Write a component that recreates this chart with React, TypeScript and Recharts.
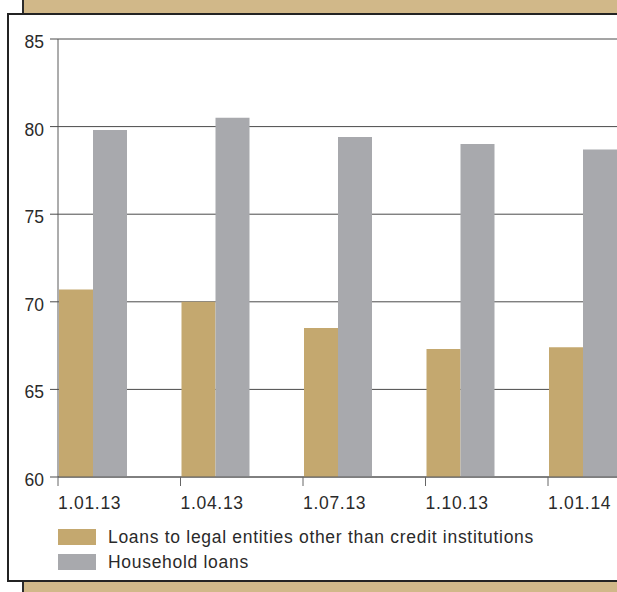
import React from 'react';
import { BarChart, Bar, XAxis, YAxis, CartesianGrid } from 'recharts';

// dates of the observations
const dates = ['1.01.13', '1.04.13', '1.07.13', '1.10.13', '1.01.14'];
// share of loans, %
const legalEntities = [70.7, 70.0, 68.5, 67.3, 67.4];
const household = [79.8, 80.5, 79.4, 79.0, 78.7];
const yTicks = [60, 65, 70, 75, 80, 85];

const seriesNames = {
  legal: 'Loans to legal entities other than credit institutions',
  household: 'Household loans',
};

const TAN = '#c4a86f';
const GREY = '#a8a9ad';
const STRIP = '#d1b889';
const INK = '#2a2a2a';
const LINE = '#4a4a4a';
const FONT = '"Liberation Sans", Arial, Helvetica, sans-serif';

const CHART_W = 670.5;
const Y_W = 58;
const BAR_W = 34;
const BAND = (CHART_W - Y_W) / dates.length;

const data = dates.map((d, i) => ({
  date: d,
  legal: legalEntities[i],
  household: household[i],
}));

// date ticks sit on the left edge of each band
const DateTick = (props: any) => {
  const { x, y, payload } = props;
  const half = payload && payload.offset != null ? payload.offset : BAND / 2;
  const x0 = x - half;
  return (
    <g>
      <line x1={x0} y1={y} x2={x0} y2={y + 9} stroke="#666" strokeWidth={1} />
      <text
        x={x0}
        y={y + 32}
        textAnchor="start"
        fill={INK}
        fontSize={17.5}
        fontFamily={FONT}
        letterSpacing={0.7}
      >
        {payload.value}
      </text>
    </g>
  );
};

const ValueTick = (props: any) => {
  const { x, y, payload } = props;
  return (
    <text x={x} y={y + 9} textAnchor="end" fill={INK} fontSize={17.5} fontFamily={FONT}>
      {payload.value}
    </text>
  );
};

const LegendRow = ({ color, label }: { color: string; label: string }) => (
  <div style={{ display: 'flex', alignItems: 'center', height: 16, marginBottom: 9 }}>
    <div style={{ width: 38, height: 16, background: color, marginRight: 12 }} />
    <span style={{ fontSize: 17.5, lineHeight: '16px', letterSpacing: 0.7, color: INK, whiteSpace: 'nowrap' }}>
      {label}
    </span>
  </div>
);

export default function App() {
  return (
    <div
      style={{
        position: 'fixed',
        left: 0,
        top: 0,
        width: 617,
        height: 592,
        overflow: 'hidden',
        background: '#fff',
        fontFamily: FONT,
      }}
    >
      {/* tan strips of the surrounding page */}
      <div
        style={{
          position: 'absolute',
          left: 22,
          top: 0,
          width: 700,
          height: 14,
          background: STRIP,
          borderLeft: '2px solid #2b2b2b',
        }}
      />
      <div
        style={{
          position: 'absolute',
          left: 22,
          top: 580,
          width: 700,
          height: 30,
          background: STRIP,
          borderLeft: '2px solid #2b2b2b',
        }}
      />
      <div
        style={{
          position: 'absolute',
          left: 7,
          top: 13,
          width: 720,
          height: 569,
          boxSizing: 'border-box',
          border: '2px solid #232323',
          background: '#fff',
        }}
      />

      <div style={{ position: 'absolute', left: 0, top: 0 }}>
        <BarChart
          width={CHART_W}
          height={520}
          data={data}
          margin={{ top: 39, right: 0, bottom: 0, left: 0 }}
          barGap={0}
          barCategoryGap={0}
        >
          <CartesianGrid horizontal vertical={false} stroke={LINE} strokeWidth={1} />
          <XAxis
            dataKey="date"
            height={43}
            axisLine={{ stroke: '#5a5a5a' }}
            tickLine={false}
            tickSize={0}
            tickMargin={0}
            tick={<DateTick />}
            interval={0}
          />
          <YAxis
            width={Y_W}
            domain={[60, 85]}
            ticks={yTicks}
            allowDataOverflow
            axisLine={{ stroke: '#5a5a5a' }}
            tickLine={{ stroke: LINE }}
            tickSize={8}
            tickMargin={6}
            tick={<ValueTick />}
          />
          <Bar dataKey="legal" name={seriesNames.legal} fill={TAN} barSize={BAR_W} isAnimationActive={false} />
          <Bar dataKey="household" name={seriesNames.household} fill={GREY} barSize={BAR_W} isAnimationActive={false} />
          {/* empty slot so the pair starts at the left edge of each band */}
          <Bar
            dataKey="legal"
            fill="none"
            stroke="none"
            legendType="none"
            barSize={BAND - 2 * BAR_W - 1}
            isAnimationActive={false}
          />
        </BarChart>
      </div>

      <div style={{ position: 'absolute', left: 58, top: 529 }}>
        <LegendRow color={TAN} label={seriesNames.legal} />
        <LegendRow color={GREY} label={seriesNames.household} />
      </div>
    </div>
  );
}
